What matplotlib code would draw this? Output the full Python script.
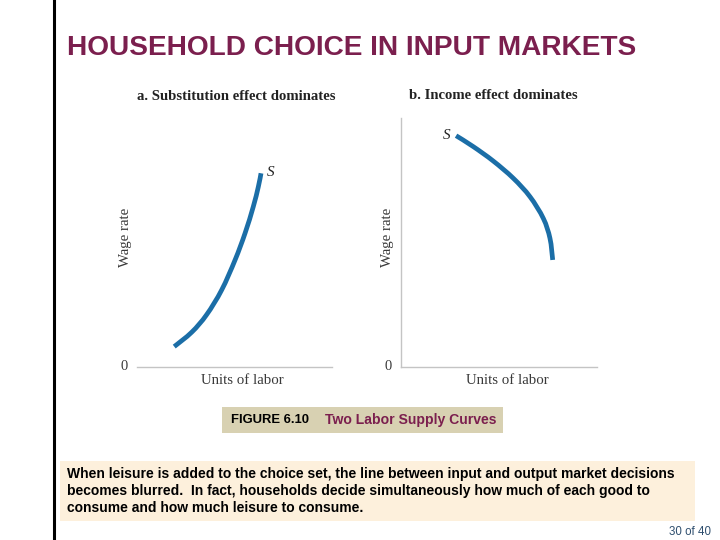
import matplotlib
matplotlib.use("Agg")
import matplotlib.pyplot as plt
from matplotlib.patches import Rectangle, PathPatch
from matplotlib.lines import Line2D
from matplotlib.path import Path

# ---- data ----
a_labor = [1.91, 2.81, 3.57, 4.34, 5.03, 5.54, 5.96, 6.22, 6.36]
a_wage = [0.82, 1.40, 2.10, 3.09, 4.30, 5.37, 6.43, 7.23, 7.78]
b_labor = [2.81, 3.69, 4.71, 5.73, 6.58, 7.26, 7.60, 7.74]
b_wage = [9.29, 8.85, 8.27, 7.58, 6.84, 5.97, 5.17, 4.30]
panel_titles = ["a. Substitution effect dominates", "b. Income effect dominates"]
x_label = "Units of labor"
y_label = "Wage rate"
curve_label = "S"

W, H = 720, 540
fig = plt.figure(figsize=(7.2, 5.4), dpi=100)
fig.patch.set_facecolor("white")

def fx(x):
    return x / W

def fy(y):
    return 1 - y / H

SANS = ["Liberation Sans", "DejaVu Sans"]
SERIF = ["Liberation Serif", "DejaVu Serif"]
MAROON = "#7b1f4e"
BLUE = "#1b6ea7"
GRAY = "#c4c4c4"
TXT = "#3a3a3a"

def smooth_path(xs, ys):
    # Catmull-Rom curve through the read points, drawn as cubic Bezier segments
    pts = list(zip(xs, ys))
    verts = [pts[0]]
    codes = [Path.MOVETO]
    n = len(pts)
    for i in range(n - 1):
        p0 = pts[i - 1] if i > 0 else pts[i]
        p1 = pts[i]
        p2 = pts[i + 1]
        p3 = pts[i + 2] if i + 2 < n else pts[i + 1]
        c1 = (p1[0] + (p2[0] - p0[0]) / 6, p1[1] + (p2[1] - p0[1]) / 6)
        c2 = (p2[0] - (p3[0] - p1[0]) / 6, p2[1] - (p3[1] - p1[1]) / 6)
        verts += [c1, c2, p2]
        codes += [Path.CURVE4] * 3
    return Path(verts, codes)

# left black rule
fig.add_artist(Line2D([fx(54), fx(54)], [0, 1], color="black", lw=2.2,
                      transform=fig.transFigure))

# title
fig.text(fx(67), fy(48), "HOUSEHOLD CHOICE IN INPUT MARKETS", family=SANS,
         fontsize=20.2, fontweight="bold", color=MAROON, ha="left", va="center")

def panel(left, right, top, bottom, lx, wy, show_y, label_pos, label_ha):
    ax = fig.add_axes([fx(left), fy(bottom), fx(right - left), (bottom - top) / H])
    ax.set_xlim(0, 10)
    ax.set_ylim(0, 10)
    ax.set_facecolor("none")
    for s in ["top", "right"]:
        ax.spines[s].set_visible(False)
    ax.spines["left"].set_visible(show_y)
    ax.spines["left"].set_color(GRAY)
    ax.spines["bottom"].set_color(GRAY)
    ax.spines["left"].set_linewidth(1.0)
    ax.spines["bottom"].set_linewidth(1.0)
    ax.set_xticks([])
    ax.set_yticks([])
    ax.add_patch(PathPatch(smooth_path(lx, wy), facecolor="none", edgecolor=BLUE,
                           lw=3.4, capstyle="butt"))
    ax.text(label_pos[0], label_pos[1], curve_label, family=SERIF, style="italic",
            fontsize=11, color="#222222", ha=label_ha, va="center")
    ax.text(-0.45, 0, "0", family=SERIF, fontsize=10.5, color=TXT,
            ha="right", va="center")
    return ax

axa = panel(137, 332, 118, 367, a_labor, a_wage, False,
            (a_labor[-1] + 0.3, a_wage[-1] + 0.05), "left")
axb = panel(401, 597, 118, 367, b_labor, b_wage, True,
            (b_labor[0] - 0.3, b_wage[0]), "right")

# panel titles and axis labels
fig.text(fx(236), fy(96.5), panel_titles[0], family=SERIF, fontsize=10.6,
         fontweight="bold", color="#222222", ha="center", va="center")
fig.text(fx(493), fy(95.5), panel_titles[1], family=SERIF, fontsize=10.6,
         fontweight="bold", color="#222222", ha="center", va="center")
for xc in (242, 507):
    fig.text(fx(xc), fy(380), x_label, family=SERIF, fontsize=10.7, color=TXT,
             ha="center", va="center")
for xc in (125, 387):
    fig.text(fx(xc), fy(237), y_label, family=SERIF, fontsize=10.7, color=TXT,
             ha="center", va="center", rotation=90)

# caption box
fig.add_artist(Rectangle((fx(222), fy(433)), fx(503 - 222), (433 - 407) / H,
                         transform=fig.transFigure, facecolor="#d8d1b2",
                         edgecolor="none"))
fig.text(fx(231), fy(420), "FIGURE 6.10", family=SANS, fontsize=9.4,
         fontweight="bold", color="black", ha="left", va="center")
fig.text(fx(325), fy(420), "Two Labor Supply Curves", family=SANS, fontsize=10.1,
         fontweight="bold", color=MAROON, ha="left", va="center")

# text box
fig.add_artist(Rectangle((fx(60), fy(521)), fx(695 - 60), (521 - 461) / H,
                         transform=fig.transFigure, facecolor="#fdf0dc",
                         edgecolor="none"))
body = ["When leisure is added to the choice set, the line between input and output market decisions",
        "becomes blurred.  In fact, households decide simultaneously how much of each good to",
        "consume and how much leisure to consume."]
for i, line in enumerate(body):
    fig.text(fx(67), fy(474 + 17 * i), line, family=SANS, fontsize=10,
             fontweight="bold", color="black", ha="left", va="center")

# page number
fig.text(fx(711), fy(532), "30 of 40", family=SANS, fontsize=8.3, color="#2e4e6e",
         ha="right", va="center")

fig.savefig("out.png", dpi=100)
